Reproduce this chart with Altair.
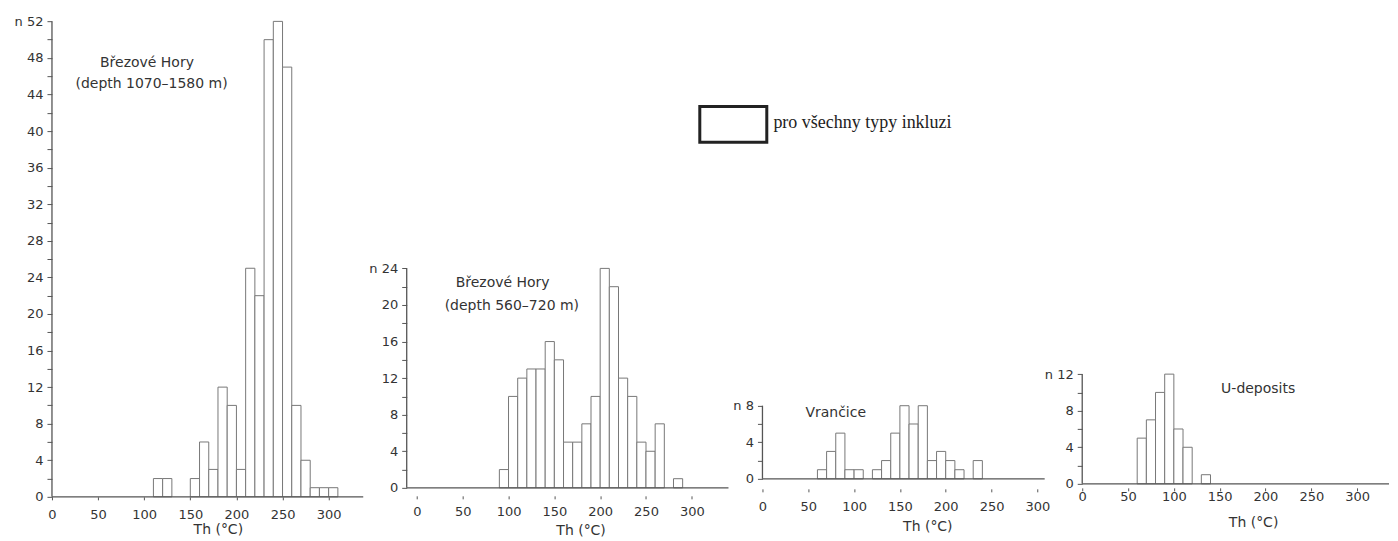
import altair as alt
import pandas as pd

BIN = 10
PX_PER_N = 9.15

# ---- data (bin start in °C, count n) ----
p1_start = [110, 120, 150, 160, 170, 180, 190, 200, 210, 220, 230, 240, 250, 260, 270, 280, 290, 300]
p1_n = [2, 2, 2, 6, 3, 12, 10, 3, 25, 22, 50, 52, 47, 10, 4, 1, 1, 1]

p2_start = [90, 100, 110, 120, 130, 140, 150, 160, 170, 180, 190, 200, 210, 220, 230, 240, 250, 260, 280]
p2_n = [2, 10, 12, 13, 13, 16, 14, 5, 5, 7, 10, 24, 22, 12, 10, 5, 4, 7, 1]

p3_start = [60, 70, 80, 90, 100, 120, 130, 140, 150, 160, 170, 180, 190, 200, 210, 230]
p3_n = [1, 3, 5, 1, 1, 1, 2, 5, 8, 6, 8, 2, 3, 2, 1, 2]

p4_start = [60, 70, 80, 90, 100, 110, 130]
p4_n = [5, 7, 10, 12, 6, 4, 1]

x_ticks = [0, 50, 100, 150, 200, 250, 300]

p1_notes = ["Březové Hory", "(depth 1070–1580 m)"]
p2_notes = ["Březové Hory", "(depth 560–720 m)"]
p3_notes = ["Vrančice"]
p4_notes = ["U-deposits"]
legend_label = "pro všechny typy inkluzi"

TEXT = "#333333"
AX = "#555555"
BAR = "#777777"


def panel(starts, counts, top, height, width, xdom, xend, xax, notes_xy, notes, legend=None):
    df = pd.DataFrame({"lo": starts, "n": counts})
    df["hi"] = df["lo"] + BIN
    df["z"] = 0
    ymax = height / PX_PER_N
    xs = alt.Scale(domain=xdom, nice=False, zero=False)
    ys = alt.Scale(domain=[0, ymax], nice=False, zero=False)
    xaxis = alt.Axis(
        values=x_ticks, title="Th (°C)", domain=False, grid=False, tickSize=3,
        tickColor=AX, labelColor=TEXT, titleColor=TEXT, labelFont="DejaVu Sans",
        labelFontSize=13, titleFont="DejaVu Sans", titleFontSize=14, titleFontWeight="normal",
        labelFlush=False, labelOverlap=False, labelBaseline="middle",
        labelPadding=xax["lp"], offset=xax["off"], titleX=xax["tx"], titleY=xax["ty"],
        titleBaseline="middle", titleAlign="center",
    )
    yvals = list(range(0, top + 1, 2))
    yaxis = alt.Axis(
        values=yvals, title=None, domain=False, grid=False, tickSize=5, tickColor=AX,
        labelColor=TEXT, labelFont="DejaVu Sans", labelFontSize=13, labelPadding=4,
        labelFlush=False, labelOverlap=False,
        labelExpr=f"datum.value % 4 == 0 ? (datum.value == {top} ? 'n ' + datum.label : datum.label) : ''",
    )
    bars = alt.Chart(df).mark_bar(fill="white", stroke=BAR, strokeWidth=1).encode(
        x=alt.X("lo:Q", scale=xs, axis=xaxis),
        x2="hi:Q",
        y=alt.Y("n:Q", scale=ys, axis=yaxis),
        y2="z:Q",
    )
    yline = alt.Chart(pd.DataFrame({"x": [xdom[0]], "y0": [0], "y1": [top]})).mark_rule(
        color=AX, strokeWidth=1.3
    ).encode(x=alt.X("x:Q", scale=xs, axis=xaxis), y=alt.Y("y0:Q", scale=ys, axis=yaxis), y2="y1:Q")
    xline = alt.Chart(pd.DataFrame({"x0": [xdom[0]], "x1": [xend], "y": [0]})).mark_rule(
        color=AX, strokeWidth=1.3
    ).encode(x=alt.X("x0:Q", scale=xs, axis=xaxis), x2="x1:Q", y=alt.Y("y:Q", scale=ys, axis=yaxis))
    ndf = pd.DataFrame({"x": [p[0] for p in notes_xy], "y": [p[1] for p in notes_xy], "t": notes})
    text = alt.Chart(ndf).mark_text(font="DejaVu Sans", fontSize=14, color=TEXT).encode(
        x=alt.X("x:Q", scale=xs, axis=xaxis), y=alt.Y("y:Q", scale=ys, axis=yaxis), text="t:N"
    )
    layers = [bars, yline, xline, text]
    if legend is not None:
        bx = pd.DataFrame({"x0": [legend["box"][0]], "x1": [legend["box"][1]],
                           "y0": [legend["box"][2]], "y1": [legend["box"][3]]})
        box = alt.Chart(bx).mark_rect(fill="white", stroke="#222222", strokeWidth=3).encode(
            x=alt.X("x0:Q", scale=xs, axis=xaxis), x2="x1:Q",
            y=alt.Y("y0:Q", scale=ys, axis=yaxis), y2="y1:Q",
        )
        lt = pd.DataFrame({"x": [legend["text"][0]], "y": [legend["text"][1]], "t": [legend_label]})
        ltxt = alt.Chart(lt).mark_text(font="Liberation Serif", fontSize=18, color="#222222",
                                       align="left", baseline="middle").encode(
            x=alt.X("x:Q", scale=xs, axis=xaxis), y=alt.Y("y:Q", scale=ys, axis=yaxis), text="t:N"
        )
        layers += [box, ltxt]
    return alt.layer(*layers).properties(width=width, height=height)


c1 = panel(p1_start, p1_n, 52, 477, 321, [0, 347.8], 337.5,
           {"lp": 15, "off": 0, "tx": 166, "ty": 33},
           [(103, 47.4), (108, 45.2)], p1_notes)
c2 = panel(p2_start, p2_n, 24, 468, 322, [-11.1, 340.0], 340.0,
           {"lp": 13, "off": 8, "tx": 174, "ty": 35},
           [(93.6, 22.4), (103.6, 19.9)], p2_notes,
           legend={"box": [308.7, 381.8, 41.7, 37.8], "text": [389.0, 39.9]})
c3 = panel(p3_start, p3_n, 8, 459, 286, [0, 311.9], 308,
           {"lp": 14.5, "off": 10, "tx": 165, "ty": 37.5},
           [(80, 7.2)], p3_notes)
c4 = panel(p4_start, p4_n, 12, 464, 307, [0, 334.8], 334.8,
           {"lp": 6, "off": 4, "tx": 171, "ty": 35},
           [(192, 10.35)], p4_notes)

chart = alt.hconcat(c1, c2, c3, c4, spacing=34, bounds="flush").properties(
    padding={"left": 6, "top": 7, "right": 0, "bottom": 0},
    background="white",
).configure_view(stroke=None)

chart.save("out.html", embed_options={"renderer": "svg", "actions": False})
